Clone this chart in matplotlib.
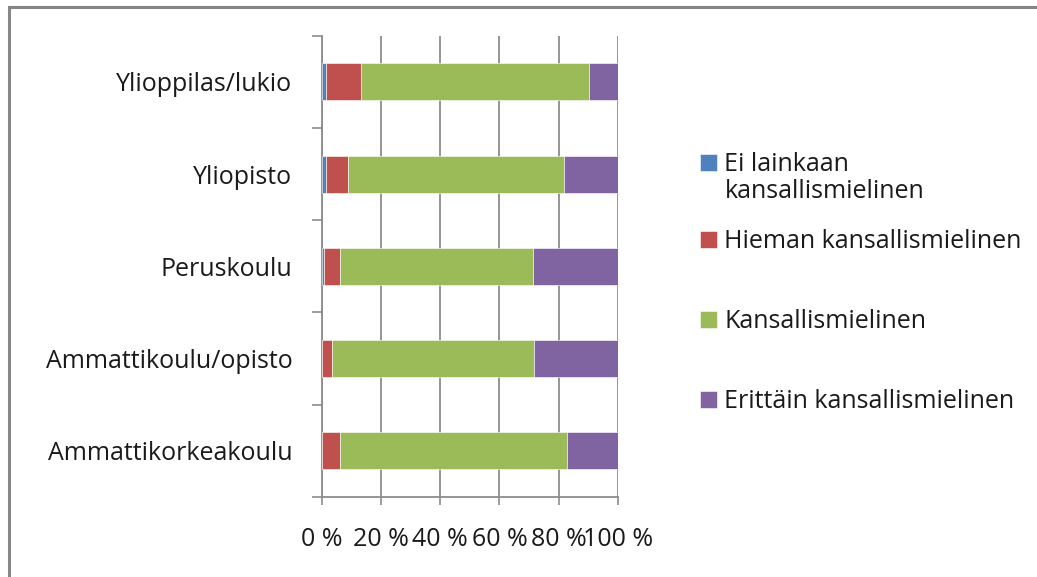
import matplotlib.pyplot as plt
import matplotlib.patches as mpatches
import numpy as np

plt.rcParams['font.family'] = ['Open Sans', 'DejaVu Sans']

categories = ["Ammattikorkeakoulu", "Ammattikoulu/opisto", "Peruskoulu", "Yliopisto", "Ylioppilas/lukio"]
series_names = ["Ei lainkaan", "Hieman kansallismielinen",
                "Kansallismielinen", "Erittäin kansallismielinen"]
first_name_line2 = "kansallismielinen"
ei_lainkaan = [0.0, 0.0, 0.7, 1.5, 1.5]
hieman = [6.1, 3.6, 5.4, 7.5, 11.8]
kansallis = [76.8, 68.2, 65.1, 72.9, 76.8]
erittain = [17.1, 28.2, 28.8, 18.1, 9.9]
xticklabels = ["0 %", "20 %", "40 %", "60 %", "80 %", "100 %"]

colors = ["#4F81BD", "#C0504D", "#9BBB59", "#8064A2"]
gridc = "#8C8C8C"
textc = "#1a1a1a"
fs = 18

fig = plt.figure(figsize=(10.37, 5.77), dpi=100)
ax = fig.add_axes([321.7 / 1037, 1 - 497 / 577, (618 - 321.7) / 1037, (497 - 35.7) / 577])

y = np.arange(len(categories))
left = np.zeros(len(categories))
bars = []
for vals, c, name in zip([ei_lainkaan, hieman, kansallis, erittain], colors, series_names):
    b = ax.barh(y, vals, left=left, height=0.4, color=c, edgecolor="white", linewidth=0.4,
                label=name, zorder=3)
    bars.append(b)
    left = left + np.array(vals)

ax.set_xlim(0, 100)
ax.set_ylim(-0.5, len(categories) - 0.5)
ax.set_xticks(np.arange(0, 101, 20))
ax.set_xticklabels(xticklabels, fontsize=fs, color=textc)
ax.set_yticks(y)
ax.set_yticklabels(categories, fontsize=fs, color=textc)
ax.set_yticks(np.arange(-0.5, len(categories), 1), minor=True)
ax.tick_params(axis="y", which="major", length=0, pad=21)
ax.tick_params(axis="y", which="minor", length=7.2, width=1.2, color=gridc, direction="out")
ax.tick_params(axis="x", length=5.8, width=1.2, color=gridc, direction="out", pad=16)
ax.xaxis.grid(True, color=gridc, linewidth=1.3, zorder=0)
ax.set_axisbelow(True)
for s in ["top", "right"]:
    ax.spines[s].set_visible(False)
for s in ["left", "bottom"]:
    ax.spines[s].set_color(gridc)
    ax.spines[s].set_linewidth(1.3)

# legend: first entry alone (two lines), the rest evenly spaced
leg_kw = dict(loc="upper left", frameon=False, fontsize=fs, borderpad=0, borderaxespad=0,
              handlelength=0.68, handleheight=0.68, handletextpad=0.3, labelcolor=textc)
fig.legend(handles=[bars[0]], labels=[series_names[0]],
           bbox_to_anchor=(700 / 1037, 1 - 152 / 577), **leg_kw)
fig.text(725 / 1037, 1 - 191 / 577, first_name_line2, fontsize=fs, color=textc,
         ha="left", va="center")
fig.legend(handles=bars[1:], labels=series_names[1:],
           bbox_to_anchor=(700 / 1037, 1 - 229 / 577), labelspacing=2.2, **leg_kw)

fig.patches.append(mpatches.Rectangle((9 / 1037, -0.1), 1.2, 1.1 - 7 / 577, transform=fig.transFigure,
                                      fill=False, edgecolor="#868686", linewidth=2.2))

fig.savefig("out.png", dpi=100)
